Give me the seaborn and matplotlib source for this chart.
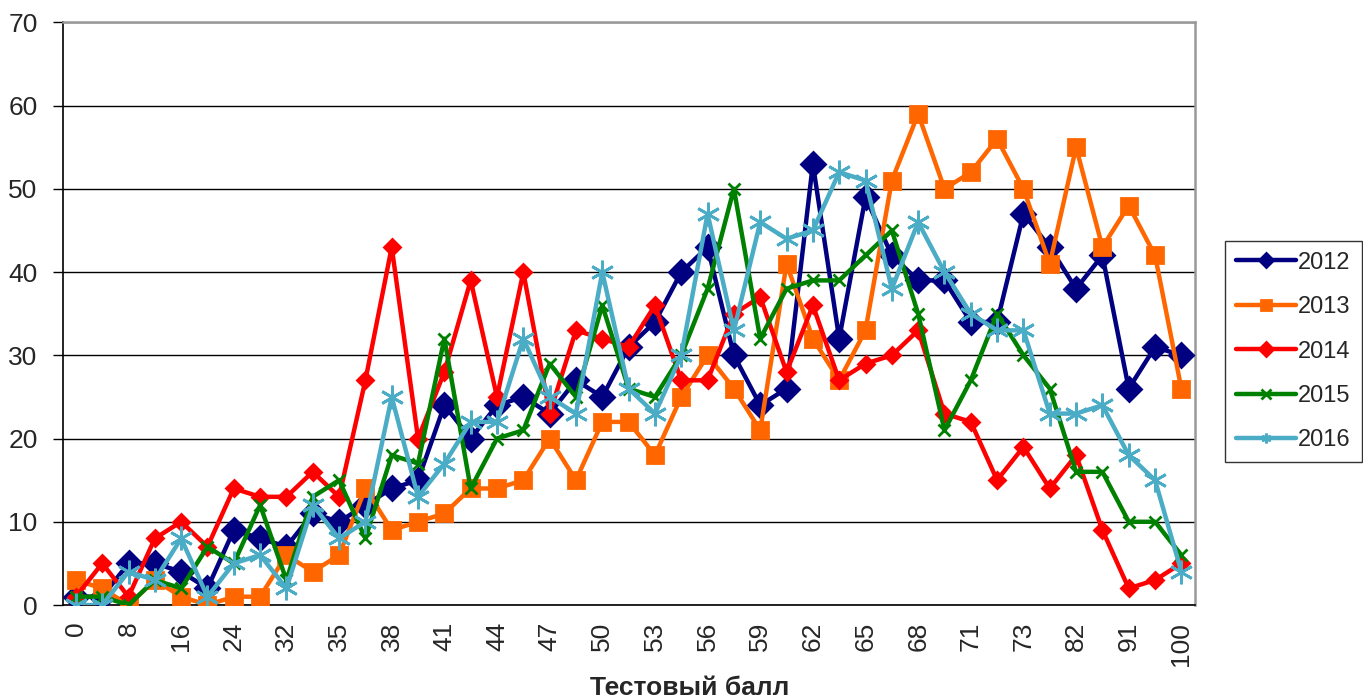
"""
Chart of test score distribution per year (2012-2016)
"""
# %% IMPORT LIBRARIES
import numpy as np
import pandas as pd
import matplotlib
matplotlib.use("Agg")
import matplotlib.pyplot as plt
import seaborn as sns

sns.set_style("white")
plt.rcParams['font.family'] = ['Liberation Sans', 'DejaVu Sans']

# %% DATA
# test scores on the x axis (only every second one is labelled)
scores = ["0", "4", "8", "12", "16", "20", "24", "28", "32", "33", "35", "36",
          "38", "39", "41", "42", "44", "45", "47", "48", "50", "51", "53", "54",
          "56", "57", "59", "60", "62", "63", "65", "66", "68", "69", "71", "72",
          "73", "77", "82", "86", "91", "95", "100"]

years = ["2012", "2013", "2014", "2015", "2016"]

counts_2012 = [1, 1, 5, 5, 4, 2, 9, 8, 7, 11, 10, 12, 14, 15, 24, 20, 24, 25, 23, 27,
               25, 31, 34, 40, 43, 30, 24, 26, 53, 32, 49, 42, 39, 39, 34, 34, 47, 43,
               38, 42, 26, 31, 30]
counts_2013 = [3, 2, 0, 3, 1, 0, 1, 1, 6, 4, 6, 14, 9, 10, 11, 14, 14, 15, 20, 15,
               22, 22, 18, 25, 30, 26, 21, 41, 32, 27, 33, 51, 59, 50, 52, 56, 50, 41,
               55, 43, 48, 42, 26]
counts_2014 = [1, 5, 1, 8, 10, 7, 14, 13, 13, 16, 13, 27, 43, 20, 28, 39, 25, 40, 23, 33,
               32, 31, 36, 27, 27, 35, 37, 28, 36, 27, 29, 30, 33, 23, 22, 15, 19, 14,
               18, 9, 2, 3, 5]
counts_2015 = [1, 1, 0, 3, 2, 7, 5, 12, 3, 13, 15, 8, 18, 17, 32, 14, 20, 21, 29, 25,
               36, 26, 25, 30, 38, 50, 32, 38, 39, 39, 42, 45, 35, 21, 27, 35, 30, 26,
               16, 16, 10, 10, 6]
counts_2016 = [0, 0, 4, 3, 8, 1, 5, 6, 2, 12, 8, 10, 25, 13, 17, 22, 22, 32, 25, 23,
               40, 26, 23, 30, 47, 33, 46, 44, 45, 52, 51, 38, 46, 40, 35, 33, 33, 23,
               23, 24, 18, 15, 4]

all_counts = [counts_2012, counts_2013, counts_2014, counts_2015, counts_2016]

colors = ["#000080", "#FF6600", "#FF0000", "#008000", "#4BACC6"]
markers = ["D", "s", "D", "x", (6, 2, 0)]
marker_sizes = [12, 11.5, 8.5, 9, 17]

# %% PLOT
fig, ax = plt.subplots(figsize=(13.63, 7.0), dpi=100)
fig.subplots_adjust(left=0.046, right=0.8764, top=0.968, bottom=0.1357)

positions = np.arange(len(scores))
for year, counts, color, marker, ms in zip(years, all_counts, colors, markers, marker_sizes):
    df = pd.DataFrame({"pos": positions, "count": counts})
    sns.lineplot(data=df, x="pos", y="count", ax=ax, color=color, linewidth=3.2,
                 marker=marker, markersize=ms, markeredgecolor=color,
                 markerfacecolor=color, markeredgewidth=2, label=year,
                 zorder=3)

ax.set_xlim(-0.5, len(scores) - 0.5)
ax.set_ylim(0, 70)
ax.set_yticks(np.arange(0, 71, 10))
ax.grid(True, axis="y", color="black", linewidth=1)
ax.set_axisbelow(True)

# x ticks: labels on every second category, tick marks between categories
ax.set_xticks(positions[::2])
ax.set_xticklabels(scores[::2], rotation=90)
ax.set_xticks(np.arange(-0.5, len(scores), 1), minor=True)
ax.tick_params(axis="x", which="major", length=0, labelsize=19, pad=12)
ax.tick_params(axis="x", which="minor", length=8, width=1, color="black", direction="out")
ax.tick_params(axis="y", which="major", length=7, width=1, color="black", direction="out",
               labelsize=19, left=True, pad=11)

for side in ["left", "bottom"]:
    ax.spines[side].set_color("black")
    ax.spines[side].set_linewidth(1.2)
for side in ["top", "right"]:
    ax.spines[side].set_color("#999999")
    ax.spines[side].set_linewidth(1.8)

ax.set_xlabel("Тестовый балл", fontsize=19, fontweight="bold")
ax.xaxis.set_label_coords(0.554, -0.122)
ax.set_ylabel("")

legend = ax.legend(loc="upper left", bbox_to_anchor=(0.8985, 0.656),
                   bbox_transform=fig.transFigure, fontsize=17, frameon=True,
                   fancybox=False, edgecolor="black", handlelength=2.55,
                   labelspacing=0.95, borderpad=0.46, handletextpad=0.1,
                   borderaxespad=0)
legend.get_frame().set_linewidth(1)
for h in legend.legend_handles:
    h.set_markersize(7)

plt.savefig("out.png", dpi=100)
